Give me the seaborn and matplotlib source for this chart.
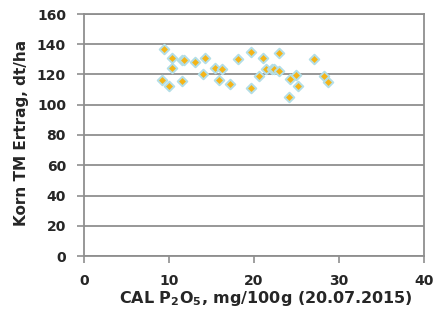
import matplotlib
matplotlib.use('Agg')
import matplotlib.pyplot as plt
import seaborn as sns
import pandas as pd

# Daten
p2o5 = [9.4, 10.3, 10.3, 9.2, 10.0, 11.5, 11.8, 11.5, 13.0, 14.2, 14.0, 15.4,
        16.2, 15.9, 17.2, 18.1, 19.6, 19.7, 20.6, 21.0, 21.4, 22.1, 22.4, 22.9,
        22.9, 24.2, 24.9, 25.2, 24.1, 27.1, 28.2, 28.7]
ertrag = [136.8, 130.6, 124.0, 116.2, 112.2, 129.9, 129.5, 115.8, 128.0, 130.6,
          120.2, 124.0, 123.5, 116.2, 113.5, 130.1, 134.6, 111.3, 119.1, 130.6,
          123.5, 123.5, 123.5, 133.9, 122.4, 116.9, 119.5, 112.4, 105.4, 130.1,
          118.9, 115.1]

df = pd.DataFrame({'p2o5': p2o5, 'ertrag': ertrag})

sns.set_style('white')
plt.rcParams['font.family'] = ['DejaVu Sans']
plt.rcParams['font.weight'] = 'bold'

fig = plt.figure(figsize=(4.37, 3.2), dpi=100)
ax = fig.add_axes([84 / 437, 1 - 256 / 320, 340 / 437, 242 / 320])

sns.scatterplot(data=df, x='p2o5', y='ertrag', ax=ax, marker='D', s=24,
                color='#F5B416', edgecolor='#B3DEE6', linewidth=1.4, zorder=3)

grid_c = '#8f8f8f'
ax.set_xlim(0, 40)
ax.set_ylim(0, 160)
ax.set_xticks(range(0, 41, 10))
ax.set_yticks(range(0, 161, 20))
ax.yaxis.grid(True, color=grid_c, linewidth=1.3)
ax.set_axisbelow(True)
for s in ['left', 'right', 'bottom', 'top']:
    ax.spines[s].set_visible(True)
    ax.spines[s].set_color(grid_c)
    ax.spines[s].set_linewidth(1.3)

ax.tick_params(axis='both', direction='out', length=5, width=1.2, color=grid_c,
               labelsize=10, pad=8)
ax.tick_params(axis='x', top=False, bottom=True)
ax.tick_params(axis='y', left=True, right=False)
for lab in ax.get_xticklabels() + ax.get_yticklabels():
    lab.set_fontweight('bold')

ax.set_xlabel('CAL P$_\\mathbf{2}$O$_\\mathbf{5}$, mg/100g (20.07.2015)',
              fontsize=11.5, fontweight='bold')
ax.xaxis.label.set_va('center')
ax.xaxis.set_label_coords((266 - 84) / 340, (256 - 299) / 242)

ax.set_ylabel('Korn TM Ertrag, dt/ha', fontsize=11, fontweight='bold')
ax.yaxis.label.set_va('center')
ax.yaxis.set_label_coords((22 - 84) / 340, (256 - 133) / 242)

fig.savefig('out.png', dpi=100)
